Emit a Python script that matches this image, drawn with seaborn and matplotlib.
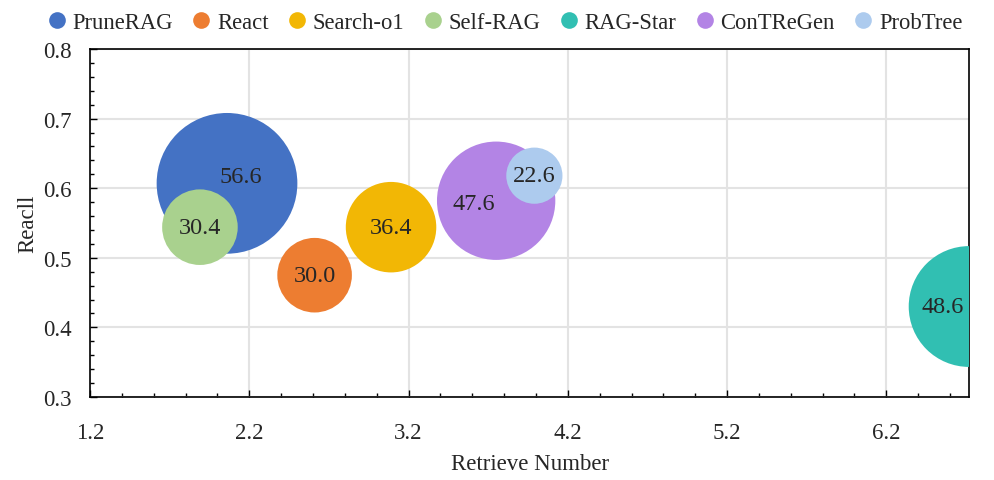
import pandas as pd
import matplotlib.pyplot as plt
import seaborn as sns
from matplotlib.lines import Line2D
from matplotlib.ticker import MultipleLocator

# data
methods = ['PruneRAG', 'React', 'Search-o1', 'Self-RAG', 'RAG-Star', 'ConTReGen', 'ProbTree']
retrieve_num = [2.06, 2.61, 3.09, 1.89, 6.72, 3.75, 3.99]
recall = [0.607, 0.475, 0.544, 0.544, 0.430, 0.582, 0.618]
bubble_val = [56.6, 30.0, 36.4, 30.4, 48.6, 47.6, 22.6]
colors = ['#4472C4', '#ED7D31', '#F2B705', '#A9D18E', '#31BFB2', '#B384E5', '#ADCBEE']

sns.set_style('white')
plt.rcParams['font.family'] = ['Liberation Serif', 'DejaVu Serif']

df = pd.DataFrame({'method': methods, 'x': retrieve_num, 'y': recall, 'val': bubble_val})

fig = plt.figure(figsize=(9.95, 4.81), dpi=100)
ax = fig.add_axes([0.0905, 0.1726, 0.8835, 0.7234])

# bubble diameter ~ proportional to the value
sizes = {v: (1.79 * v) ** 2 for v in bubble_val}
sns.scatterplot(data=df, x='x', y='y', hue='method', palette=dict(zip(methods, colors)),
                size='val', sizes=sizes, linewidth=0, alpha=1, legend=False, ax=ax, zorder=3)

# value labels (a couple nudged like in the original)
offsets = {'PruneRAG': (10, 5), 'ConTReGen': (-16, -2), 'RAG-Star': (-19, 0)}
for m, x, y, v in zip(methods, retrieve_num, recall, bubble_val):
    ax.annotate(f'{v:.1f}', (x, y), xytext=offsets.get(m, (0, 0)), textcoords='offset points',
                ha='center', va='center', fontsize=17.5, zorder=5)

ax.set_xlim(1.2, 6.72)
ax.set_ylim(0.3, 0.8)
ax.set_xticks([1.2, 2.2, 3.2, 4.2, 5.2, 6.2])
ax.set_yticks([0.3, 0.4, 0.5, 0.6, 0.7, 0.8])
ax.xaxis.set_minor_locator(MultipleLocator(0.2))
ax.yaxis.set_minor_locator(MultipleLocator(0.02))
ax.tick_params(axis='both', which='major', direction='in', length=5, width=1, labelsize=16.5,
               bottom=True, left=True, top=False, right=False, color='black')
ax.tick_params(axis='both', which='minor', direction='in', length=3, width=1,
               bottom=True, left=True, top=False, right=False, color='black')
ax.tick_params(axis='x', pad=18)
ax.tick_params(axis='y', pad=13)
ax.grid(True, which='major', color='#e3e3e3', linewidth=1.5, zorder=0)
ax.set_axisbelow(True)
for s in ax.spines.values():
    s.set_color('black')
    s.set_linewidth(1.2)

ax.set_xlabel('Retrieve Number', fontsize=16.5, labelpad=7)
ax.set_ylabel('Reacll', fontsize=16.5, labelpad=4)

handles = [Line2D([], [], marker='o', linestyle='', markersize=12, markerfacecolor=c,
                  markeredgewidth=0, label=m) for m, c in zip(methods, colors)]
ax.legend(handles=handles, loc='lower center', bbox_to_anchor=(0.47, 1.045), ncol=7,
          frameon=False, fontsize=16.3, handletextpad=0.15, columnspacing=0.7,
          borderaxespad=0.0, borderpad=0.0, handlelength=1.1)

fig.savefig('out.png', dpi=100)
